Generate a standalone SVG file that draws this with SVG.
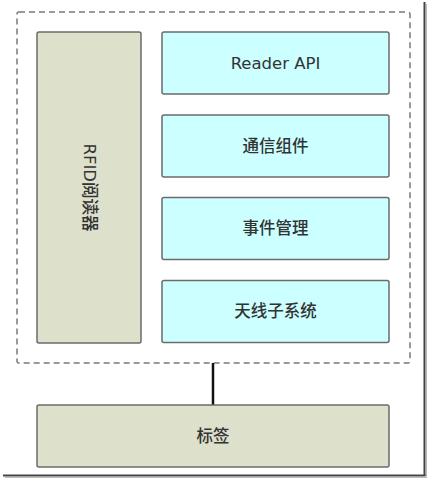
<svg xmlns="http://www.w3.org/2000/svg" width="429" height="480" viewBox="0 0 429 480">
<style>
.box{stroke:#6b6b6b;stroke-width:1.5}
.beige{fill:#dde0cb}
.cyan{fill:#ccffff}
.lbl{font-family:"DejaVu Sans","Noto Sans CJK SC",sans-serif;font-size:16.5px;font-weight:500;fill:#333;text-anchor:middle;dominant-baseline:central}
</style>
<rect width="429" height="480" fill="#fff"/>
<g id="frame">
<line x1="424.5" y1="2" x2="424.5" y2="476" stroke="#444" stroke-width="2"/>
<line x1="3" y1="475.5" x2="425.5" y2="475.5" stroke="#444" stroke-width="2"/>
<line x1="426.5" y1="4" x2="426.5" y2="478" stroke="#bbb" stroke-width="1"/>
<line x1="5" y1="477.5" x2="427" y2="477.5" stroke="#bbb" stroke-width="1"/>
</g>
<g id="reader-group">
<rect x="17" y="12" width="393" height="351" rx="2" fill="none" stroke="#7a7a7a" stroke-width="1.5" stroke-dasharray="6,4"/>
</g>
<g id="connectors">
<line x1="213" y1="363" x2="213" y2="405" stroke="#111" stroke-width="2.5"/>
</g>
<g id="rfid-reader">
<rect class="box beige" x="37" y="32" width="104" height="311" rx="2"/>
<text class="lbl" transform="translate(89,187.5) rotate(90)">RFID阅读器</text>
</g>
<g id="reader-api">
<rect class="box cyan" x="162" y="32" width="227" height="62" rx="2"/>
<text class="lbl" x="275.5" y="63">Reader API</text>
</g>
<g id="comm">
<rect class="box cyan" x="162" y="115" width="227" height="62" rx="2"/>
<text class="lbl" x="275.5" y="146">通信组件</text>
</g>
<g id="event">
<rect class="box cyan" x="162" y="197.5" width="227" height="62" rx="2"/>
<text class="lbl" x="275.5" y="228.5">事件管理</text>
</g>
<g id="antenna">
<rect class="box cyan" x="162" y="280.5" width="227" height="62" rx="2"/>
<text class="lbl" x="275.5" y="311.5">天线子系统</text>
</g>
<g id="tag">
<rect class="box beige" x="37" y="405" width="352" height="62" rx="2"/>
<text class="lbl" x="213" y="436">标签</text>
</g>
</svg>
